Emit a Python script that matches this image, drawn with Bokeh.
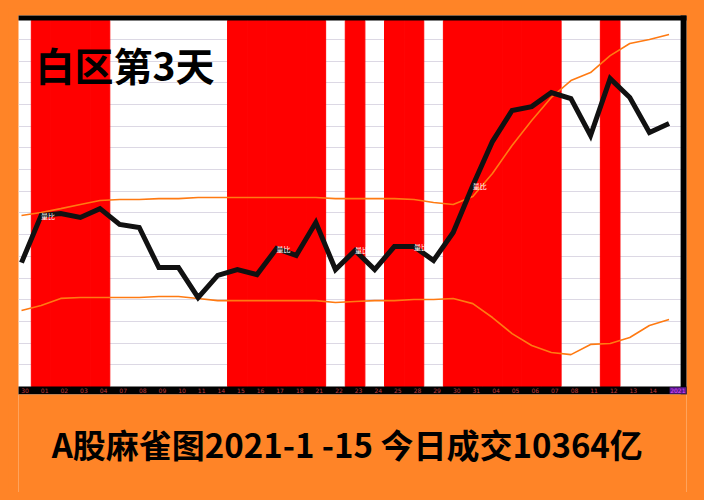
from bokeh.plotting import figure
from bokeh.models import Label, Grid, FixedTicker, ColumnDataSource
from bokeh.core.properties import value
from bokeh.embed import file_html
from bokeh.resources import INLINE

# ---------------- data ----------------
dates = ["30", "01", "02", "03", "04", "07", "08", "09", "10", "11", "14", "15",
         "16", "17", "18", "21", "22", "23", "24", "25", "28", "29", "30", "31",
         "04", "05", "06", "07", "08", "11", "12", "13", "14", "2021"]
red_day = [0, 1, 1, 1, 1, 0, 0, 0, 0, 0, 0, 1, 1, 1, 1, 1, 0, 1, 0, 1, 1, 0,
           1, 1, 1, 1, 1, 1, 0, 0, 1, 0, 0, 0]
index_line = [5.71, 7.88, 7.97, 7.79, 8.20, 7.47, 7.33, 5.48, 5.48, 4.10, 5.12,
              5.39, 5.16, 6.36, 6.04, 7.56, 5.39, 6.27, 5.39, 6.45, 6.45, 5.81,
              7.10, 9.26, 11.29, 12.72, 12.90, 13.55, 13.27, 11.57, 14.19,
              13.32, 11.71, 12.12]
upper_band = [7.88, 8.02, 8.20, 8.39, 8.57, 8.62, 8.62, 8.66, 8.66, 8.71, 8.71,
              8.71, 8.71, 8.71, 8.71, 8.71, 8.66, 8.66, 8.66, 8.66, 8.62, 8.48,
              8.39, 8.76, 9.82, 11.11, 12.26, 13.32, 14.10, 14.47, 15.25,
              15.81, 15.99, 16.22]
lower_band = [3.50, 3.73, 4.06, 4.10, 4.10, 4.10, 4.10, 4.15, 4.15, 4.06, 3.96,
              3.96, 3.96, 3.96, 3.96, 3.96, 3.87, 3.92, 3.96, 3.96, 4.01, 4.01,
              4.06, 3.82, 3.18, 2.44, 1.89, 1.57, 1.47, 1.94, 1.98, 2.26, 2.81,
              3.09]
tag_days = [1, 13, 17, 20, 23]
tag_text = "量比"
title_text = "白区第3天"
caption_text = "A股麻雀图2021-1 -15 今日成交10364亿"

ORANGE = "#ff8427"
n = len(dates)
idx = list(range(n))
FONT = "Noto Sans CJK SC"

p = figure(width=688, height=484, output_backend="svg", toolbar_location=None,
           x_range=(-0.153, 33.89), y_range=(-4.885, 17.10),
           x_axis_location=None, y_axis_location=None,
           min_border_left=10, min_border_right=10,
           min_border_top=7, min_border_bottom=0)
p.border_fill_color = ORANGE
p.background_fill_color = "white"
p.outline_line_color = None
p.grid.visible = False

grid = Grid(dimension=1, ticker=FixedTicker(ticks=list(range(1, 17))),
            grid_line_color="#dcd8e4", grid_line_width=1.2)
p.add_layout(grid)

# red day zones
red_x = [i for i in idx if red_day[i]]
p.vbar(x=red_x, width=1.0, bottom=0, top=16.87, fill_color="#ff0000",
       line_color="#ff0000", line_width=1)

# bands
p.line(idx, upper_band, line_color="#ff7a12", line_width=1.6)
p.line(idx, lower_band, line_color="#ff7a12", line_width=1.6)
# main line
p.line(idx, index_line, line_color="#111111", line_width=5, line_join="miter")

# small tags
p.text(x=tag_days, y=[index_line[i] for i in tag_days], text=[tag_text] * len(tag_days),
       text_font=value(FONT), text_font_size="7px", text_color="white",
       text_align="left", text_baseline="middle")

# frame borders: top, right, bottom strip
p.quad(left=-1, right=35, bottom=16.87, top=18, fill_color="black", line_color=None)
p.quad(left=33.59, right=35, bottom=-0.369, top=18, fill_color="black", line_color=None)
p.quad(left=-1, right=35, bottom=-0.369, top=0, fill_color="black", line_color=None)
p.quad(left=33.03, right=33.89, bottom=-0.33, top=-0.03, fill_color="#5a1890",
       line_color=None)
# caption area (orange, below the chart)
p.quad(left=-1, right=35, bottom=-6, top=-0.369, fill_color=ORANGE, line_color=None)

label_x = [i + 0.18 for i in idx[:-1]] + [33.45]
label_col = ["#c03838"] * (n - 1) + ["#e050ff"]
src = ColumnDataSource(dict(x=label_x, y=[-0.185] * n, t=dates, c=label_col))
p.text(x="x", y="y", text="t", text_color="c", source=src,
       text_font=value("DejaVu Sans"), text_font_size="6px",
       text_align="center", text_baseline="middle")

p.add_layout(Label(x=0.714, y=14.85, text=title_text, text_font=FONT,
                   text_font_size="39px", text_font_style="bold",
                   text_color="black", text_baseline="middle"))
p.add_layout(Label(x=16.6, y=-2.63, text=caption_text, text_font=FONT,
                   text_font_size="33px", text_font_style="bold",
                   text_color="black", text_align="center",
                   text_baseline="middle"))

html = file_html(p, INLINE)
head, sep, rest = html.rpartition("<body")
if sep:
    html = head + '<body style="background-color:#ff8427;margin:8px;"' + rest
open("out.html", "w").write(html)
